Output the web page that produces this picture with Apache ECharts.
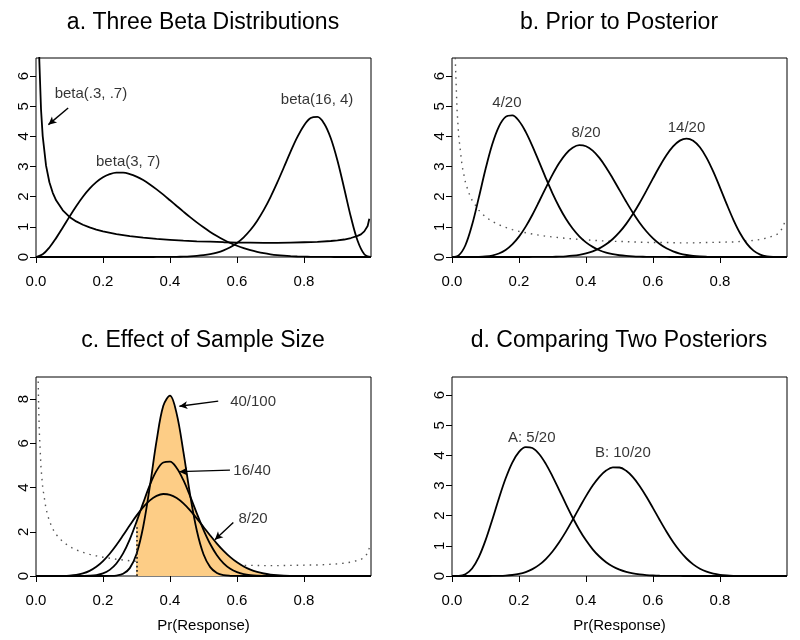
<!DOCTYPE html>
<html><head><meta charset="utf-8">
<script src="https://cdn.jsdelivr.net/npm/echarts@6/dist/echarts.min.js"></script>
<style>html,body{margin:0;padding:0;background:#fff}#c{width:800px;height:640px}</style>
</head><body><div id="c"></div>
<script>
// ---- data ----
const xs = [0,0.02,0.04,0.06,0.08,0.10,0.12,0.14,0.16,0.18,0.20,0.22,0.24,0.26,0.28,0.30,0.32,0.34,0.36,0.38,0.40,0.42,0.44,0.46,0.48,0.50,0.52,0.54,0.56,0.58,0.60,0.62,0.64,0.66,0.68,0.70,0.72,0.74,0.76,0.78,0.80,0.82,0.84,0.86,0.88,0.90,0.92,0.94,0.96,0.98,1.00];

const priorX = [0.002,0.004,0.006,0.008,0.01,0.015,0.02,0.03,0.04,0.05,0.06,0.08,0.10,0.12,0.14,0.16,0.18,0.20,0.24,0.28,0.32,0.36,0.40,0.44,0.48,0.52,0.56,0.60,0.64,0.68,0.72,0.76,0.80,0.84,0.88,0.90,0.92,0.94,0.96,0.97,0.98,0.99,0.995];
const priorY = [19.97,12.30,9.27,7.58,6.49,4.89,4.01,3.03,2.48,2.13,1.88,1.55,1.33,1.18,1.07,0.98,0.91,0.85,0.76,0.69,0.64,0.60,0.57,0.54,0.52,0.51,0.49,0.48,0.48,0.47,0.47,0.48,0.49,0.50,0.53,0.55,0.58,0.63,0.70,0.75,0.85,1.03,1.27];

const beta37 = [0,0.089,0.316,0.626,0.978,1.339,1.685,1.998,2.266,2.482,2.642,2.747,2.798,2.797,2.752,2.668,2.551,2.408,2.244,2.067,1.881,1.692,1.505,1.322,1.148,0.984,0.833,0.696,0.573,0.465,0.372,0.292,0.225,0.170,0.125,0.090,0.063,0.043,0.028,0.017,0.010,0.006,0.003,0.001,0.001,0,0,0,0,0,0];
const beta164 = [0,0,0,0,0,0,0,0,0,0,0,0,0,0,0,0,0,0,0.001,0.002,0.004,0.007,0.012,0.021,0.036,0.059,0.094,0.146,0.221,0.325,0.467,0.654,0.895,1.197,1.561,1.987,2.465,2.977,3.494,3.973,4.364,4.608,4.645,4.429,3.938,3.192,2.273,1.324,0.538,0.092,0];

const post4of20 = [0,0.055,0.390,1.067,1.968,2.911,3.733,4.327,4.647,4.695,4.511,4.152,3.680,3.153,2.619,2.113,1.659,1.268,0.944,0.686,0.485,0.335,0.225,0.147,0.094,0.058,0.035,0.020,0.011,0.006,0.003,0.002,0.001,0,0,0,0,0,0,0,0,0,0,0,0,0,0,0,0,0,0];
const post8of20 = [0,0,0,0.001,0.004,0.017,0.049,0.116,0.234,0.418,0.675,1.007,1.402,1.841,2.295,2.731,3.116,3.421,3.622,3.708,3.674,3.528,3.286,2.970,2.606,2.219,1.833,1.467,1.137,0.853,0.617,0.430,0.288,0.185,0.113,0.066,0.036,0.018,0.009,0.004,0.002,0.001,0,0,0,0,0,0,0,0,0];
const post14of20 = [0,0,0,0,0,0,0,0,0,0,0,0,0.001,0.001,0.003,0.006,0.013,0.024,0.043,0.073,0.120,0.189,0.287,0.421,0.598,0.823,1.099,1.424,1.793,2.193,2.606,3.009,3.373,3.666,3.860,3.929,3.857,3.639,3.288,2.829,2.301,1.753,1.234,0.788,0.445,0.212,0.080,0.021,0.003,0,0];
const post16of40 = [0,0,0,0,0,0,0,0.003,0.012,0.042,0.117,0.277,0.566,1.023,1.661,2.448,3.306,4.119,4.764,5.133,5.173,4.886,4.334,3.614,2.833,2.089,1.446,0.940,0.572,0.325,0.172,0.084,0.038,0.016,0.006,0.002,0.001,0,0,0,0,0,0,0,0,0,0,0,0,0,0];
const post40of100 = [0,0,0,0,0,0,0,0,0,0,0,0.003,0.021,0.099,0.356,0.996,2.229,4.063,6.118,7.695,8.157,7.333,5.617,3.675,2.057,0.984,0.402,0.140,0.041,0.010,0.002,0,0,0,0,0,0,0,0,0,0,0,0,0,0,0,0,0,0,0,0];
const postA = [0,0.004,0.059,0.249,0.625,1.181,1.859,2.572,3.232,3.763,4.118,4.276,4.243,4.045,3.718,3.306,2.850,2.385,1.940,1.535,1.182,0.885,0.646,0.458,0.316,0.211,0.137,0.086,0.053,0.031,0.017,0.009,0.005,0.002,0.001,0,0,0,0,0,0,0,0,0,0,0,0,0,0,0,0];
const postB = [0,0,0,0,0,0,0.001,0.005,0.014,0.033,0.068,0.130,0.227,0.369,0.563,0.814,1.119,1.472,1.859,2.259,2.648,3.000,3.290,3.496,3.602,3.599,3.488,3.279,2.988,2.637,2.252,1.857,1.477,1.129,0.828,0.580,0.386,0.243,0.143,0.078,0.039,0.018,0.007,0.002,0.001,0,0,0,0,0,0];

const xTicks = [0,0.2,0.4,0.6,0.8];
const yTicks6 = [0,1,2,3,4,5,6];
const yTicks8 = [0,2,4,6,8];
const shadeFrom = 0.3;

const titles = ['a. Three Beta Distributions','b. Prior to Posterior','c. Effect of Sample Size','d. Comparing Two Posteriors'];
const xName = 'Pr(Response)';

const labelsA = [['beta(.3, .7)',0.164,5.41],['beta(3, 7)',0.275,3.16],['beta(16, 4)',0.839,5.21]];
const labelsB = [['4/20',0.164,5.11],['8/20',0.40,4.12],['14/20',0.70,4.28]];
const labelsC = [['40/100',0.648,7.88],['16/40',0.645,4.76],['8/20',0.648,2.57]];
const labelsD = [['A: 5/20',0.238,4.59],['B: 10/20',0.51,4.09]];
const arrowsA = [[[0.096,4.94],[0.037,4.39]]];
const arrowsC = [[[0.544,7.91],[0.428,7.68]],[[0.579,4.79],[0.428,4.72]],[[0.589,2.42],[0.534,1.64]]];
const cutLine = [[0.3,0],[0.3,2.2]];

// ---- chart ----
const FONT = '"Liberation Sans", Arial, Helvetica, sans-serif';
const ORANGE = '#FDCD86';
const pairs = (xa, ya) => xa.map((x, i) => [x, ya[i]]);

const gridRects = [
  {left:36, top:58, width:335, height:199},
  {left:452, top:58, width:335, height:199},
  {left:36, top:377, width:335, height:199},
  {left:452, top:377, width:335, height:199}
];
const grid = gridRects.map(r => Object.assign({show:true, borderColor:'#000', borderWidth:1, backgroundColor:'transparent'}, r));

function xAxis(i, withName) {
  return {
    type:'value', gridIndex:i, min:0, max:1,
    axisLine:{show:false},
    axisTick:{show:true, length:6, customValues:xTicks, lineStyle:{color:'#000', width:1}},
    axisLabel:{customValues:xTicks, formatter:v => v.toFixed(1), fontSize:15, fontFamily:FONT, color:'#000', margin:17},
    splitLine:{show:false},
    name: withName ? xName : '', nameLocation:'middle', nameGap:42,
    nameTextStyle:{fontSize:15, fontFamily:FONT, color:'#000'}
  };
}
function yAxis(i, max, ticks) {
  return {
    type:'value', gridIndex:i, min:0, max:max,
    axisLine:{show:false},
    axisTick:{show:true, length:6, customValues:ticks, lineStyle:{color:'#000', width:1}},
    axisLabel:{customValues:ticks, rotate:90, fontSize:15, fontFamily:FONT, color:'#000', margin:5},
    splitLine:{show:false}
  };
}

function curve(i, data, opts) {
  return Object.assign({
    type:'line', xAxisIndex:i, yAxisIndex:i, data:data, symbol:'none', smooth:0.35,
    lineStyle:{color:'#000', width:1.8}, silent:true, z:3
  }, opts || {});
}
function priorCurve(i, dotted) {
  return curve(i, pairs(priorX, priorY), {
    smooth:false, z:1,
    lineStyle: dotted ? {color:'#555', width:1.4, type:[1.5,5]} : {color:'#000', width:1.8}
  });
}
function arrowMarks(list) {
  return {
    silent:true, symbol:['none','arrow'], symbolSize:[6,8], animation:false, z:5,
    lineStyle:{color:'#000', width:1.4, type:'solid'}, label:{show:false},
    data: list.map(a => [{coord:a[0]},{coord:a[1]}])
  };
}
function labels(i, list) {
  return {
    type:'scatter', xAxisIndex:i, yAxisIndex:i, symbolSize:1, silent:true, z:6,
    itemStyle:{color:'rgba(0,0,0,0)'},
    data: list.map(l => [l[1], l[2], l[0]]),
    label:{show:true, position:'inside', formatter:p => p.data[2], fontSize:15, fontFamily:FONT, color:'#000'}
  };
}
function shade(ys) {
  return curve(2, pairs(xs, ys).filter(p => p[0] >= shadeFrom), {
    lineStyle:{width:0, color:ORANGE}, areaStyle:{color:ORANGE, opacity:1}, z:2
  });
}

const series = [
  // a
  Object.assign(priorCurve(0, false), {markLine: arrowMarks(arrowsA)}),
  curve(0, pairs(xs, beta37)),
  curve(0, pairs(xs, beta164)),
  labels(0, labelsA),
  // b
  priorCurve(1, true),
  curve(1, pairs(xs, post4of20)),
  curve(1, pairs(xs, post8of20)),
  curve(1, pairs(xs, post14of20)),
  labels(1, labelsB),
  // c
  priorCurve(2, true),
  shade(post8of20), shade(post16of40), shade(post40of100),
  Object.assign(curve(2, pairs(xs, post8of20)), {markLine: arrowMarks(arrowsC)}),
  Object.assign(curve(2, pairs(xs, post16of40)), {markLine:{
    silent:true, symbol:['none','none'], animation:false, label:{show:false}, z:6,
    lineStyle:{color:'#222', width:1.7, type:[1.7,2.6]},
    data:[[{coord:cutLine[0]},{coord:cutLine[1]}]]
  }}),
  curve(2, pairs(xs, post40of100)),
  labels(2, labelsC),
  // d
  curve(3, pairs(xs, postA)),
  curve(3, pairs(xs, postB)),
  labels(3, labelsD)
];

const titleCenters = [[203,23],[619,23],[203,341],[619,341]];
const graphic = titles.map((t, i) => ({
  type:'text', x:titleCenters[i][0], y:titleCenters[i][1], silent:true,
  style:{text:t, fontSize:23, fontFamily:FONT, fill:'#000',
    align:'center', verticalAlign:'middle', textAlign:'center', textVerticalAlign:'middle'}
}));

const chart = echarts.init(document.getElementById('c'), null, {renderer:'canvas'});
chart.setOption({
  animation:false,
  backgroundColor:'#fff',
  grid: grid,
  xAxis: [xAxis(0,false), xAxis(1,false), xAxis(2,true), xAxis(3,true)],
  yAxis: [yAxis(0,6.6,yTicks6), yAxis(1,6.6,yTicks6), yAxis(2,9,yTicks8), yAxis(3,6.6,yTicks6)],
  series: series,
  graphic: graphic
});
</script>
</body></html>
